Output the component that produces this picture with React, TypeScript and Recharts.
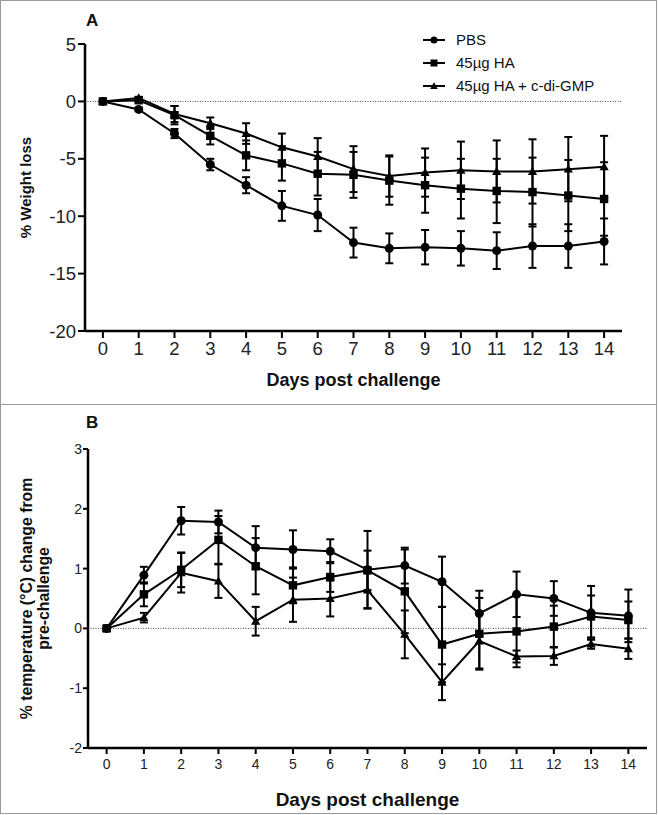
import React from "react";
import { LineChart, Line, XAxis, YAxis, ErrorBar, ReferenceLine, Legend } from "recharts";

const FONT = "'Liberation Sans', Arial, Helvetica, sans-serif";

// days post challenge
const days = [0, 1, 2, 3, 4, 5, 6, 7, 8, 9, 10, 11, 12, 13, 14];

// panel A: % weight loss (mean, sem)
const weightPbs = [0, -0.7, -2.8, -5.5, -7.3, -9.1, -9.9, -12.3, -12.8, -12.7, -12.8, -13.0, -12.6, -12.6, -12.2];
const weightPbsErr = [0, 0.15, 0.4, 0.5, 0.7, 1.3, 1.4, 1.3, 1.3, 1.5, 1.5, 1.6, 1.9, 1.9, 2.0];
const weightHa = [0, 0.1, -1.2, -3.0, -4.7, -5.4, -6.3, -6.4, -6.9, -7.3, -7.6, -7.8, -7.9, -8.2, -8.5];
const weightHaErr = [0, 0.1, 0.8, 0.75, 1.3, 1.5, 1.9, 2.0, 2.1, 2.4, 2.6, 2.8, 3.0, 3.1, 3.2];
const weightCdg = [0, 0.3, -1.1, -1.9, -2.8, -4.0, -4.8, -5.9, -6.5, -6.2, -6.0, -6.1, -6.1, -5.9, -5.7];
const weightCdgErr = [0, 0.1, 0.7, 0.5, 0.9, 1.2, 1.6, 2.0, 1.8, 2.1, 2.5, 2.7, 2.8, 2.8, 2.7];

// panel B: temperature change from pre-challenge
const tempPbs = [0, 0.89, 1.8, 1.78, 1.35, 1.32, 1.29, 0.98, 1.05, 0.78, 0.25, 0.57, 0.5, 0.26, 0.21];
const tempPbsErr = [0, 0.14, 0.23, 0.19, 0.36, 0.32, 0.2, 0.65, 0.3, 0.42, 0.38, 0.38, 0.29, 0.45, 0.44];
const tempHa = [0, 0.57, 0.98, 1.48, 1.04, 0.72, 0.86, 0.97, 0.62, -0.27, -0.09, -0.05, 0.03, 0.2, 0.14];
const tempHaErr = [0, 0.2, 0.29, 0.4, 0.47, 0.3, 0.25, 0.33, 0.7, 0.63, 0.6, 0.6, 0.35, 0.35, 0.31];
const tempCdg = [0, 0.18, 0.93, 0.79, 0.12, 0.48, 0.5, 0.64, -0.1, -0.9, -0.21, -0.47, -0.46, -0.26, -0.34];
const tempCdgErr = [0, 0.08, 0.33, 0.28, 0.24, 0.37, 0.3, 0.3, 0.4, 0.3, 0.46, 0.1, 0.15, 0.08, 0.17];

const seriesNames = ["PBS", "45µg HA", "45µg HA + c-di-GMP"];
const weightTicks = [-20, -15, -10, -5, 0, 5];
const tempTicks = [-2, -1, 0, 1, 2, 3];

const shapeByName: Record<string, string> = {
  PBS: "circle",
  "45µg HA": "square",
  "45µg HA + c-di-GMP": "triangle",
};

const weightData = days.map((d, i) => ({
  day: d,
  pbs: weightPbs[i],
  pbsErr: weightPbsErr[i],
  ha: weightHa[i],
  haErr: weightHaErr[i],
  cdg: weightCdg[i],
  cdgErr: weightCdgErr[i],
}));

const tempData = days.map((d, i) => ({
  day: d,
  pbs: tempPbs[i],
  pbsErr: tempPbsErr[i],
  ha: tempHa[i],
  haErr: tempHaErr[i],
  cdg: tempCdg[i],
  cdgErr: tempCdgErr[i],
}));

const marker = (shape: string, cx: number, cy: number, s: number, key?: any) => {
  if (cx == null || cy == null) return null;
  if (shape === "square") {
    return <rect key={key} x={cx - s} y={cy - s} width={s * 2} height={s * 2} fill="#000" />;
  }
  if (shape === "triangle") {
    const h = s * 1.1;
    return <polygon key={key} points={`${cx},${cy - h} ${cx - h},${cy + h * 0.75} ${cx + h},${cy + h * 0.75}`} fill="#000" />;
  }
  return <circle key={key} cx={cx} cy={cy} r={s} fill="#000" />;
};

const dotFor = (shape: string, s: number) => (p: any) => marker(shape, p.cx, p.cy, s, p.index);

// keep the legend in series order (recharts sorts it by name otherwise)
const renderLegend = (props: any) => {
  const items = [...(props.payload || [])].sort(
    (a: any, b: any) => seriesNames.indexOf(a.value) - seriesNames.indexOf(b.value)
  );
  return (
    <div>
      {items.map((entry: any) => (
        <div key={entry.value} style={{ display: "flex", alignItems: "center", height: 23 }}>
          <svg width={24} height={12} style={{ flexShrink: 0 }}>
            <line x1={1} y1={6} x2={23} y2={6} stroke="#000" strokeWidth={2} />
            {marker(shapeByName[entry.value], 12, 6, 3.5)}
          </svg>
          <span style={{ marginLeft: 10, fontSize: 15, fontFamily: FONT, color: "#111", whiteSpace: "nowrap" }}>
            {entry.value}
          </span>
        </div>
      ))}
    </div>
  );
};

const yTitle = (lines: string[], cx: number, size: number, lh: number) => (props: any) => {
  const vb = props.viewBox || { y: 0, height: 0 };
  const cy = vb.y + vb.height / 2;
  return (
    <text
      transform={`translate(${cx},${cy}) rotate(-90)`}
      textAnchor="middle"
      fontFamily={FONT}
      fontWeight="bold"
      fontSize={size}
      fill="#111"
    >
      {lines.map((l, i) => (
        <tspan key={i} x={0} dy={i === 0 ? -((lines.length - 1) / 2) * lh + 0.35 * size : lh}>
          {l}
        </tspan>
      ))}
    </text>
  );
};

const axisLine = { stroke: "#000", strokeWidth: 2.5 };
const tickLine = { stroke: "#000", strokeWidth: 2 };

const App: React.FC = () => {
  return (
    <div style={{ position: "absolute", left: 0, top: 0, width: 658, height: 815, background: "#fff" }}>
      <div
        style={{
          position: "absolute",
          left: 0,
          top: 0,
          width: 657,
          height: 814,
          border: "1.5px solid #9a9a9a",
          boxSizing: "border-box",
        }}
      />
      <div style={{ position: "absolute", left: 0, top: 404, width: 657, borderTop: "1.5px solid #9a9a9a" }} />

      <div style={{ position: "absolute", left: 86, top: 11, fontFamily: FONT, fontWeight: "bold", fontSize: 17, color: "#111" }}>A</div>
      <div style={{ position: "absolute", left: 86, top: 413, fontFamily: FONT, fontWeight: "bold", fontSize: 17, color: "#111" }}>B</div>

      <div style={{ position: "absolute", left: 0, top: 0 }}>
        <LineChart width={658} height={391} data={weightData} margin={{ top: 44, right: 36, bottom: 0, left: 0 }}>
          <XAxis
            dataKey="day"
            type="number"
            domain={[-0.5, 14.5]}
            ticks={days}
            height={60}
            axisLine={axisLine}
            tickLine={tickLine}
            tickSize={7}
            tickMargin={4}
            tick={{ fill: "#222", fontSize: 18.5, fontFamily: FONT }}
            label={{
              value: "Days post challenge",
              position: "insideBottom",
              offset: 5,
              style: { fontFamily: FONT, fontWeight: "bold", fontSize: 18, fill: "#111" },
            }}
          />
          <YAxis
            type="number"
            domain={[-20, 5]}
            ticks={weightTicks}
            width={85}
            axisLine={axisLine}
            tickLine={tickLine}
            tickSize={7}
            tickMargin={2}
            tick={{ fill: "#222", fontSize: 18.5, fontFamily: FONT }}
            label={{ content: yTitle(["% Weight loss"], 26, 15, 17) }}
          />
          <ReferenceLine y={0} stroke="#444" strokeDasharray="1 1.5" strokeWidth={1} />
          <Line name={seriesNames[0]} dataKey="pbs" stroke="#000" strokeWidth={2} dot={dotFor("circle", 4.5)} activeDot={false} isAnimationActive={false}>
            <ErrorBar dataKey="pbsErr" width={4} stroke="#000" strokeWidth={2} direction="y" />
          </Line>
          <Line name={seriesNames[1]} dataKey="ha" stroke="#000" strokeWidth={2} dot={dotFor("square", 4.2)} activeDot={false} isAnimationActive={false}>
            <ErrorBar dataKey="haErr" width={4} stroke="#000" strokeWidth={2} direction="y" />
          </Line>
          <Line name={seriesNames[2]} dataKey="cdg" stroke="#000" strokeWidth={2} dot={dotFor("triangle", 4.2)} activeDot={false} isAnimationActive={false}>
            <ErrorBar dataKey="cdgErr" width={4} stroke="#000" strokeWidth={2} direction="y" />
          </Line>
          <Legend
            layout="vertical"
            verticalAlign="middle"
            align="center"
            content={renderLegend}
            wrapperStyle={{ position: "absolute", left: 422, top: 28, width: 230 }}
          />
        </LineChart>
      </div>

      <div style={{ position: "absolute", left: 0, top: 407 }}>
        <LineChart width={658} height={403} data={tempData} margin={{ top: 42, right: 11, bottom: 0, left: 0 }}>
          <XAxis
            dataKey="day"
            type="number"
            domain={[-0.5, 14.5]}
            ticks={days}
            height={62}
            axisLine={axisLine}
            tickLine={tickLine}
            tickSize={6}
            tickMargin={5}
            tick={{ fill: "#222", fontSize: 14, fontFamily: FONT }}
            label={{
              value: "Days post challenge",
              position: "insideBottom",
              offset: 4,
              style: { fontFamily: FONT, fontWeight: "bold", fontSize: 19, fill: "#111" },
            }}
          />
          <YAxis
            type="number"
            domain={[-2, 3]}
            ticks={tempTicks}
            width={88}
            axisLine={axisLine}
            tickLine={tickLine}
            tickSize={5}
            tickMargin={1}
            tick={{ fill: "#222", fontSize: 14, fontFamily: FONT }}
            label={{ content: yTitle(["% temperature (°C) change from", "pre-challenge"], 34.5, 15.8, 17) }}
          />
          <ReferenceLine y={0} stroke="#444" strokeDasharray="1 1.5" strokeWidth={1} />
          <Line name={seriesNames[0]} dataKey="pbs" stroke="#000" strokeWidth={2} dot={dotFor("circle", 4.5)} activeDot={false} isAnimationActive={false}>
            <ErrorBar dataKey="pbsErr" width={4} stroke="#000" strokeWidth={2} direction="y" />
          </Line>
          <Line name={seriesNames[1]} dataKey="ha" stroke="#000" strokeWidth={2} dot={dotFor("square", 4.2)} activeDot={false} isAnimationActive={false}>
            <ErrorBar dataKey="haErr" width={4} stroke="#000" strokeWidth={2} direction="y" />
          </Line>
          <Line name={seriesNames[2]} dataKey="cdg" stroke="#000" strokeWidth={2} dot={dotFor("triangle", 4.2)} activeDot={false} isAnimationActive={false}>
            <ErrorBar dataKey="cdgErr" width={4} stroke="#000" strokeWidth={2} direction="y" />
          </Line>
        </LineChart>
      </div>
    </div>
  );
};

export default App;
